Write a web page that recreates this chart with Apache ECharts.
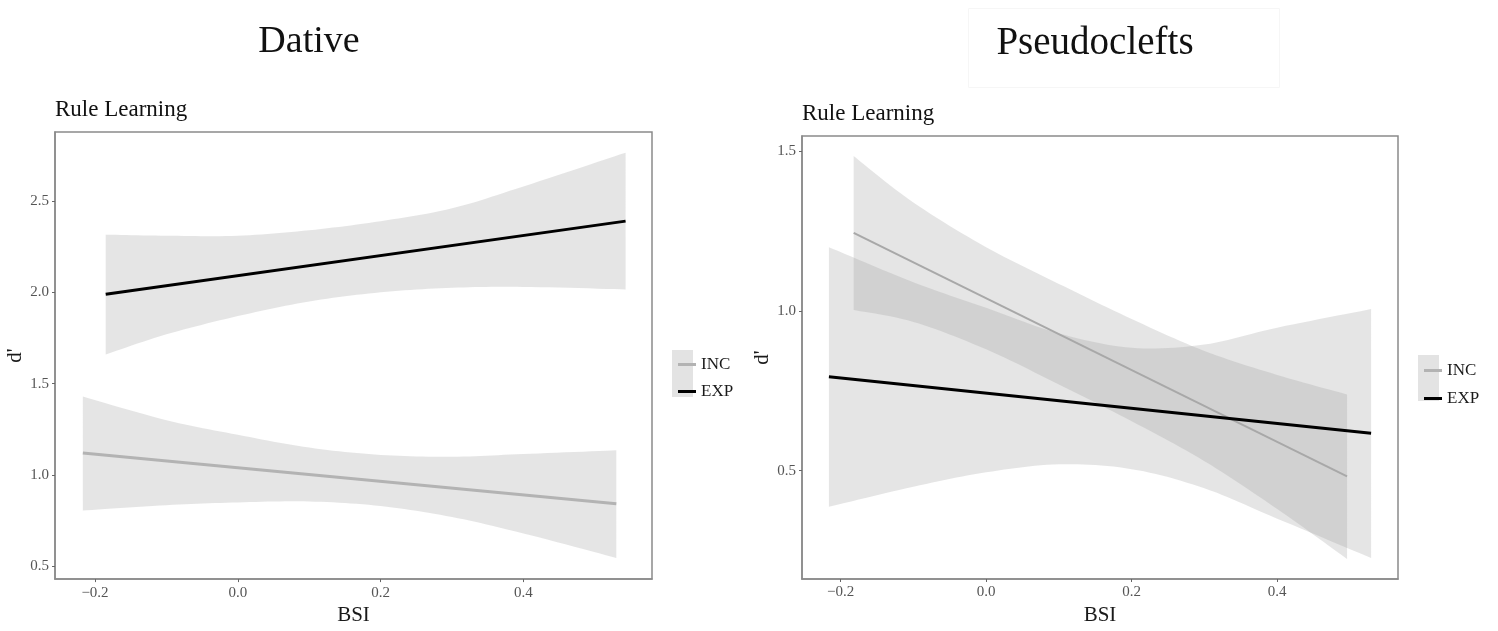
<!DOCTYPE html>
<html>
<head>
<meta charset="utf-8">
<title>Rule Learning - Dative / Pseudoclefts</title>
<script src="https://cdn.jsdelivr.net/npm/echarts@6/dist/echarts.min.js"></script>
<style>
  html, body { margin: 0; padding: 0; background: #fff; }
  #chart { width: 1498px; height: 631px; }
</style>
</head>
<body>
<div id="chart"></div>
<script>
// ---- Dative panel (left) ----
var datIncX     = [-0.217, -0.1, 0.0, 0.1, 0.2, 0.3, 0.4, 0.53];
var datIncUpper = [1.43, 1.30, 1.22, 1.15, 1.11, 1.10, 1.115, 1.135];
var datIncLower = [0.805, 0.835, 0.85, 0.855, 0.83, 0.77, 0.68, 0.546];
var datIncFitX  = [-0.217, 0.53];
var datIncFit   = [1.12, 0.843];

var datExpX     = [-0.185, -0.1, 0.0, 0.1, 0.2, 0.3, 0.4, 0.543];
var datExpUpper = [2.316, 2.31, 2.31, 2.34, 2.39, 2.46, 2.58, 2.765];
var datExpLower = [1.66, 1.77, 1.87, 1.95, 2.0, 2.025, 2.03, 2.016];
var datExpFitX  = [-0.185, 0.543];
var datExpFit   = [1.99, 2.39];

// ---- Pseudoclefts panel (right) ----
var psIncX     = [-0.182, -0.1, 0.0, 0.1, 0.2, 0.3, 0.4, 0.496];
var psIncUpper = [1.485, 1.34, 1.20, 1.085, 0.975, 0.875, 0.80, 0.739];
var psIncLower = [1.003, 0.966, 0.88, 0.77, 0.655, 0.53, 0.38, 0.224];
var psIncFitX  = [-0.182, 0.496];
var psIncFit   = [1.245, 0.482];

var psExpX     = [-0.216, -0.1, 0.0, 0.1, 0.2, 0.3, 0.4, 0.529];
var psExpUpper = [1.20, 1.09, 1.01, 0.93, 0.885, 0.895, 0.948, 1.006];
var psExpLower = [0.387, 0.45, 0.495, 0.52, 0.505, 0.445, 0.35, 0.227];
var psExpFitX  = [-0.216, 0.529];
var psExpFit   = [0.794, 0.617];

// ticks
var bsiTicks = [-0.2, 0.0, 0.2, 0.4];
var datDTicks = [0.5, 1.0, 1.5, 2.0, 2.5];
var psDTicks = [0.5, 1.0, 1.5];

var SERIF = '"Liberation Serif", "Times New Roman", serif';
var bandFill = 'rgba(150,150,150,0.25)';

// smooth a pixel polyline (Catmull-Rom) into polygon points
function smoothPts(pts) {
  var out = [pts[0]];
  for (var i = 0; i < pts.length - 1; i++) {
    var p0 = pts[i - 1] || pts[i], p1 = pts[i], p2 = pts[i + 1], p3 = pts[i + 2] || p2;
    var c1 = [p1[0] + (p2[0] - p0[0]) / 6, p1[1] + (p2[1] - p0[1]) / 6];
    var c2 = [p2[0] - (p3[0] - p1[0]) / 6, p2[1] - (p3[1] - p1[1]) / 6];
    for (var k = 1; k <= 12; k++) {
      var t = k / 12, u = 1 - t;
      out.push([
        u*u*u*p1[0] + 3*u*u*t*c1[0] + 3*u*t*t*c2[0] + t*t*t*p2[0],
        u*u*u*p1[1] + 3*u*u*t*c1[1] + 3*u*t*t*c2[1] + t*t*t*p2[1]
      ]);
    }
  }
  return out;
}

function bandSeries(name, idx, xs, lo, hi) {
  return {
    type: 'custom', name: name, xAxisIndex: idx, yAxisIndex: idx,
    silent: true, z: 1,
    data: xs.map(function (x, i) { return [x, lo[i], hi[i]]; }),
    encode: { x: 0, y: [1, 2] },
    renderItem: function (params, api) {
      if (params.dataIndex !== 0) return null;
      var up = xs.map(function (x, i) { return api.coord([x, hi[i]]); });
      var dn = xs.map(function (x, i) { return api.coord([x, lo[i]]); }).reverse();
      var pts = smoothPts(up).concat(smoothPts(dn));
      return { type: 'polygon', shape: { points: pts }, style: { fill: bandFill } };
    }
  };
}

function fitSeries(name, idx, xs, ys, color, width) {
  return {
    type: 'line', name: name, xAxisIndex: idx, yAxisIndex: idx,
    data: xs.map(function (x, i) { return [x, ys[i]]; }),
    symbol: 'none', color: color, z: 3, silent: true,
    lineStyle: { color: color, width: width }
  };
}

function fmt(v) {
  return (v < 0 ? '\u2212' : '') + Math.abs(v).toFixed(1);
}

function xAxisFor(idx, min, max, gap) {
  return {
    type: 'value', gridIndex: idx, min: min, max: max,
    name: 'BSI', nameLocation: 'middle', nameGap: gap,
    nameTextStyle: { fontFamily: SERIF, fontSize: 21, color: '#1a1a1a' },
    axisLine: { show: true, onZero: false, lineStyle: { color: '#8a8a8a', width: 1.5 } },
    axisTick: { show: true, length: 3, customValues: bsiTicks, lineStyle: { color: '#666' } },
    axisLabel: { customValues: bsiTicks, formatter: fmt, margin: 6,
      fontFamily: SERIF, fontSize: 15, color: '#555' },
    splitLine: { show: false }
  };
}

function yAxisFor(idx, min, max, ticks, gap) {
  return {
    type: 'value', gridIndex: idx, min: min, max: max,
    name: "d'", nameLocation: 'middle', nameGap: gap, nameRotate: 90,
    nameTextStyle: { fontFamily: SERIF, fontSize: 21, color: '#1a1a1a' },
    axisLine: { show: true, onZero: false, lineStyle: { color: '#8a8a8a', width: 1.5 } },
    axisTick: { show: true, length: 3, customValues: ticks, lineStyle: { color: '#666' } },
    axisLabel: { customValues: ticks, formatter: fmt, margin: 6,
      fontFamily: SERIF, fontSize: 15, color: '#555' },
    splitLine: { show: false }
  };
}

function legendFor(left, top, gap) {
  return {
    left: left, top: top, orient: 'vertical',
    data: ['INC', 'EXP'],
    icon: 'path://M0,0 L18,0 L18,3 L0,3 Z',
    itemWidth: 18, itemHeight: 3, itemGap: gap, itemTextGap: 12,
    selectedMode: false,
    textStyle: { fontFamily: SERIF, fontSize: 17, color: '#1a1a1a', lineHeight: 16 }
  };
}

var chart = echarts.init(document.getElementById('chart'), null, { renderer: 'canvas' });

var option = {
  animation: false,
  backgroundColor: '#ffffff',
  grid: [
    { left: 55, top: 132, width: 597, height: 453, show: true, borderColor: '#8a8a8a', borderWidth: 1.5 },
    { left: 802, top: 136, width: 596, height: 452, show: true, borderColor: '#8a8a8a', borderWidth: 1.5 }
  ],
  xAxis: [
    xAxisFor(0, -0.256, 0.58, 24),
    xAxisFor(1, -0.253, 0.566, 26)
  ],
  yAxis: [
    yAxisFor(0, 0.43, 2.878, datDTicks, 28),
    yAxisFor(1, 0.161, 1.548, psDTicks, 29)
  ],
  legend: [
    legendFor(673, 351, 10),
    legendFor(1419, 357, 11)
  ],
  graphic: [
    { type: 'rect', left: 672, top: 350, shape: { width: 21, height: 47 }, style: { fill: '#e3e3e3' }, z: 0 },
    { type: 'rect', left: 1418, top: 355, shape: { width: 21, height: 46 }, style: { fill: '#e3e3e3' }, z: 0 },
    { type: 'rect', left: 966, top: 6, shape: { width: 311, height: 79 }, style: { fill: 'none', stroke: '#f6f6f6', lineWidth: 1 }, z: 0 },
    { type: 'text', x: 309, y: 42, style: { text: 'Dative', fontFamily: SERIF, fontSize: 38, fill: '#111', align: 'center', verticalAlign: 'middle' } },
    { type: 'text', x: 1095, y: 44, style: { text: 'Pseudoclefts', fontFamily: SERIF, fontSize: 39, fill: '#111', align: 'center', verticalAlign: 'middle' } },
    { type: 'text', x: 55, y: 110, style: { text: 'Rule Learning', fontFamily: SERIF, fontSize: 23, fill: '#111', align: 'left', verticalAlign: 'middle' } },
    { type: 'text', x: 802, y: 114, style: { text: 'Rule Learning', fontFamily: SERIF, fontSize: 23, fill: '#111', align: 'left', verticalAlign: 'middle' } }
  ],
  series: [
    bandSeries('INC band', 0, datIncX, datIncLower, datIncUpper),
    bandSeries('EXP band', 0, datExpX, datExpLower, datExpUpper),
    fitSeries('INC', 0, datIncFitX, datIncFit, '#b3b3b3', 3),
    fitSeries('EXP', 0, datExpFitX, datExpFit, '#000000', 3),
    bandSeries('INC band', 1, psIncX, psIncLower, psIncUpper),
    bandSeries('EXP band', 1, psExpX, psExpLower, psExpUpper),
    fitSeries('INC', 1, psIncFitX, psIncFit, '#a8a8a8', 2),
    fitSeries('EXP', 1, psExpFitX, psExpFit, '#000000', 3)
  ]
};

chart.setOption(option);
</script>
</body>
</html>
